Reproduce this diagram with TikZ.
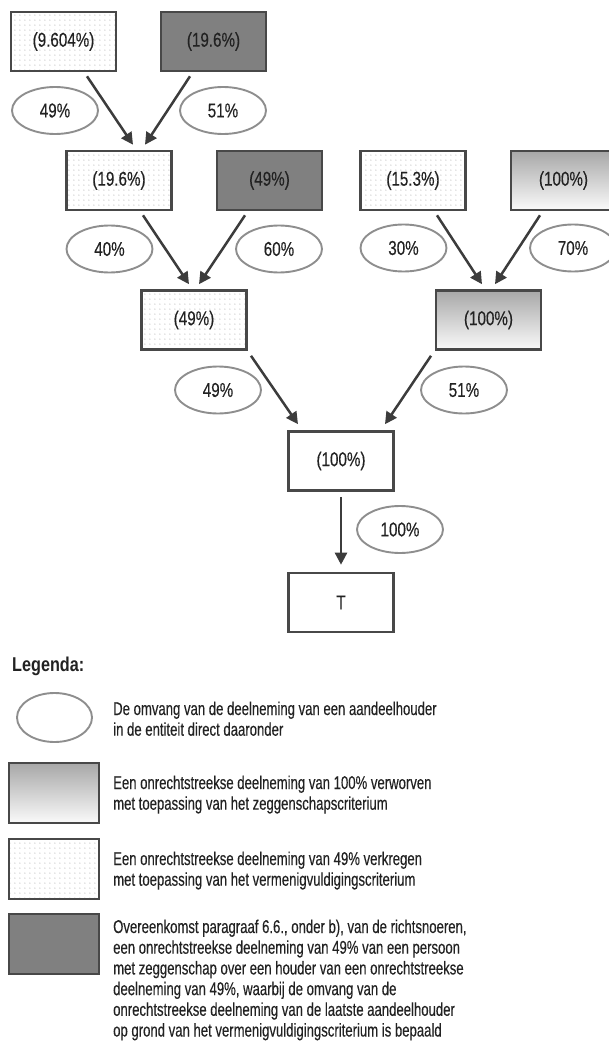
\documentclass[tikz,border=0pt]{standalone}
\usepackage{fontspec}
\setmainfont[FakeStretch=0.71,FakeBold=0.3]{Liberation Sans}
\newfontfamily\diagfont[FakeStretch=0.76,FakeBold=0.3]{Liberation Sans}
\newfontfamily\headfont[FakeStretch=0.81]{Liberation Sans Bold}
\usetikzlibrary{shapes.geometric,arrows.meta,patterns}
\definecolor{boxline}{HTML}{484848}
\definecolor{ellline}{HTML}{8E8E8E}
\definecolor{arrcol}{HTML}{3C3C3C}
\definecolor{darkfill}{HTML}{808080}
\definecolor{gradtop}{HTML}{7E7E7E}
\definecolor{gradmid}{HTML}{BDBDBD}
\definecolor{txt}{HTML}{222222}
\definecolor{dotcol}{HTML}{B4B4B4}
\pgfdeclareverticalshading{boxgrad}{100bp}{color(0bp)=(white); color(22bp)=(white); color(62bp)=(gradmid); color(100bp)=(gradtop)}
\pgfdeclarepatternformonly{finedots}{\pgfpointorigin}{\pgfpoint{4.5pt}{4.5pt}}{\pgfpoint{4.5pt}{4.5pt}}{\pgfpathcircle{\pgfpoint{1pt}{1pt}}{0.7pt}\pgfusepath{fill}}
\tikzset{
  every node/.style={text=txt, font=\diagfont\fontsize{20}{24}\selectfont},
  basebox/.style={draw=boxline, line width=2.6pt, rectangle, minimum width=105pt, minimum height=59pt, inner sep=0pt},
  plainbox/.style={basebox, fill=white},
  darkbox/.style={basebox, fill=darkfill},
  gradbox/.style={basebox, shading=boxgrad},
  dotbox/.style={basebox, pattern=finedots, pattern color=dotcol},
  pct/.style={ellipse, draw=ellline, line width=1.9pt, minimum width=86pt, minimum height=47pt, inner sep=0pt},
  arr/.style={draw=arrcol, line width=2.5pt, -{Triangle[length=12pt,width=12pt]}},
  legtext/.style={anchor=base west, align=left, inner sep=0pt, font=\rmfamily\fontsize{18.5}{20.7}\selectfont},
}
\begin{document}
\begin{tikzpicture}[x=1pt,y=-1pt]
\useasboundingbox (0,0) rectangle (609,1043);
% row 1
\node[dotbox]  (a1) at (63.5,41.5) {(9.604\%)};
\node[darkbox] (a2) at (213.5,41.5) {(19.6\%)};
\node[pct] (e1) at (55,110.5) {49\%};
\node[pct] (e2) at (223,110.5) {51\%};
% row 2
\node[dotbox]  (b1) at (119,180.5) {(19.6\%)};
\node[darkbox] (b2) at (269.5,180.5) {(49\%)};
\node[dotbox]  (b3) at (413,180.5) {(15.3\%)};
\node[gradbox] (b4) at (563.5,180.5) {(100\%)};
\node[pct] (e3) at (109.5,249) {40\%};
\node[pct] (e4) at (279,249) {60\%};
\node[pct] (e5) at (403.5,248) {30\%};
\node[pct] (e6) at (573,248) {70\%};
% row 3
\node[dotbox]  (c1) at (194,320) {(49\%)};
\node[gradbox] (c2) at (488.5,320) {(100\%)};
\node[pct] (e7) at (218,390) {49\%};
\node[pct] (e8) at (464,390) {51\%};
% row 4
\node[plainbox] (d1) at (341,461) {(100\%)};
\node[pct] (e9) at (400,529.5) {100\%};
\node[plainbox] (t) at (341,602.5) {T};
% arrows
\draw[arr] ([xshift=23.5pt,yshift=-4pt]a1.south) -- ([xshift=14pt,yshift=5pt]b1.north);
\draw[arr] ([xshift=-23.5pt,yshift=-4pt]a2.south) -- ([xshift=26pt,yshift=5pt]b1.north);
\draw[arr] ([xshift=24pt,yshift=-4pt]b1.south) -- ([xshift=-5pt,yshift=5pt]c1.north);
\draw[arr] ([xshift=-24.5pt,yshift=-4pt]b2.south) -- ([xshift=5pt,yshift=5pt]c1.north);
\draw[arr] ([xshift=24pt,yshift=-4pt]b3.south) -- ([xshift=-6.5pt,yshift=5pt]c2.north);
\draw[arr] ([xshift=-23.5pt,yshift=-4pt]b4.south) -- ([xshift=6.5pt,yshift=5pt]c2.north);
\draw[arr] ([xshift=57pt,yshift=-5pt]c1.south) -- ([xshift=-43pt,yshift=6pt]d1.north);
\draw[arr] ([xshift=-57.5pt,yshift=-5pt]c2.south) -- ([xshift=44pt,yshift=6pt]d1.north);
\draw[arr] ([yshift=-5pt]d1.south) -- ([yshift=7pt]t.north);
% legend
\node[anchor=base west, inner sep=0pt, font=\headfont\fontsize{20}{24}\selectfont] (lg) at (12,671) {Legenda:};
\node[pct, minimum width=75pt, minimum height=49pt] (l1) at (54.5,717.5) {};
\node[gradbox, minimum width=90pt, minimum height=60pt] (l2) at (54,793) {};
\node[dotbox, minimum width=90pt, minimum height=60pt] (l3) at (54,869) {};
\node[darkbox, minimum width=90pt, minimum height=60pt] (l4) at (54,944) {};
\node[legtext] (t1) at (113,735.7) {De omvang van de deelneming van een aandeelhouder\\in de entiteit direct daaronder};
\node[legtext] (t2) at (113,809.7) {Een onrechtstreekse deelneming van 100\% verworven\\met toepassing van het zeggenschapscriterium};
\node[legtext] (t3) at (113,885.7) {Een onrechtstreekse deelneming van 49\% verkregen\\met toepassing van het vermenigvuldigingscriterium};
\node[legtext] (t4) at (113,1036.5) {Overeenkomst paragraaf 6.6., onder b), van de richtsnoeren,\\een onrechtstreekse deelneming van 49\% van een persoon\\met zeggenschap over een houder van een onrechtstreekse\\deelneming van 49\%, waarbij de omvang van de\\onrechtstreekse deelneming van de laatste aandeelhouder\\op grond van het vermenigvuldigingscriterium is bepaald};
\end{tikzpicture}
\end{document}
